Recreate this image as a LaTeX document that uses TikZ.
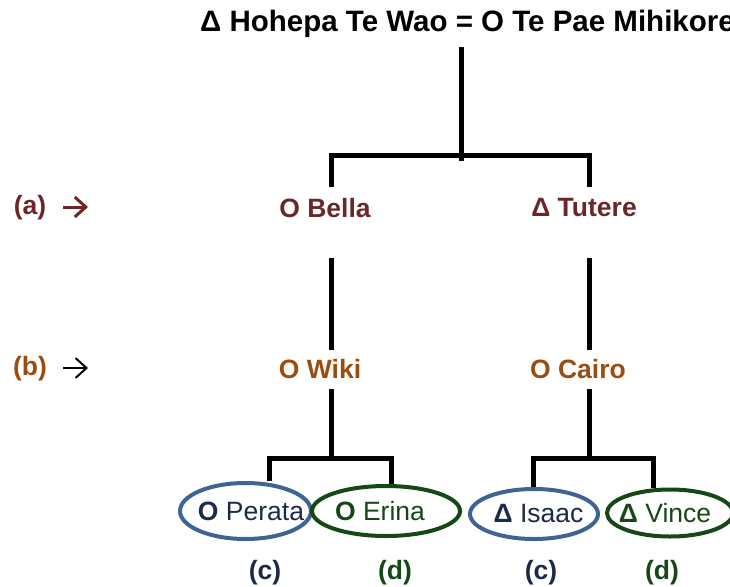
\documentclass[tikz,border=0pt]{standalone}
\usepackage{fontspec}
\setmainfont{Liberation Sans}
\usetikzlibrary{shapes.geometric,arrows.meta}
\definecolor{dred}{RGB}{107,38,40}
\definecolor{dorange}{RGB}{156,76,12}
\definecolor{navy}{RGB}{28,42,72}
\definecolor{bell}{RGB}{62,100,150}
\definecolor{dgreen}{RGB}{22,72,22}
\begin{document}
\begin{tikzpicture}[x=1pt,y=-1pt,
  nm/.style={font=\fontsize{26.5}{31}\selectfont\bfseries, inner sep=0pt},
  ttl/.style={font=\fontsize{29.5}{34}\selectfont\bfseries, inner sep=0pt},
  elltext/.style={font=\fontsize{26.5}{31}\selectfont, inner sep=0pt},
  ell/.style={ellipse, draw, line width=4pt, inner sep=0pt},
  tree/.style={line width=5pt, black, line join=miter},
  gen/.style={-{Straight Barb[length=11pt,width=20pt]}}]
\useasboundingbox (0,0) rectangle (730,586);
\clip (0,0) rectangle (730,586);
% title
\node[ttl, anchor=base west] (title) at (200,32) {Δ Hohepa Te Wao = O Te Pae Mihikore};
% generation labels
\node[nm, dred] (la) at (30,208) {(a)};
\node[nm, dorange] (lb) at (30,369) {(b)};
\coordinate (a1) at (63,207);
\coordinate (a2) at (88,207);
\coordinate (b1) at (63,368);
\coordinate (b2) at (88,368);
\draw[gen, dred, line width=3pt] (a1) -- (a2);
\draw[gen, black, line width=2pt] (b1) -- (b2);
% names
\node[nm, dred] (bella) at (325,208) {O Bella};
\node[nm, dred] (tutere) at (584,208) {Δ Tutere};
\node[nm, dorange] (wiki) at (320,369) {O Wiki};
\node[nm, dorange] (cairo) at (578,369) {O Cairo};
% ellipses
\node[ell, draw=bell, minimum width=131pt, minimum height=56pt,
  label={[elltext, navy, xshift=5.5pt]center:{\bfseries O}\ Perata}] (perata) at (245.5,511) {};
\node[ell, draw=dgreen, minimum width=148pt, minimum height=50pt,
  label={[elltext, dgreen, xshift=-6pt]center:{\bfseries O}\ Erina}] (erina) at (386,511) {};
\node[ell, draw=bell, minimum width=128pt, minimum height=50pt,
  label={[elltext, navy, xshift=4.5pt]center:{\bfseries Δ}\ Isaac}] (isaac) at (534,514) {};
\node[ell, draw=dgreen, minimum width=126pt, minimum height=47pt,
  label={[elltext, dgreen, xshift=-5pt]center:{\bfseries Δ}\ Vince}] (vince) at (670,513) {};
% (c) (d)
\node[nm, navy] (c1) at (265,573) {(c)};
\node[nm, dgreen] (d1) at (395,573) {(d)};
\node[nm, navy] (c2) at (541,573) {(c)};
\node[nm, dgreen] (d2) at (662,573) {(d)};
% tree lines
\coordinate (j0) at (461,155);
\coordinate (jw) at (331,458);
\coordinate (jc) at (589,458);
\draw[tree] (461,47) -- (461,161);
\draw[tree] (331,187) -- (331,155) -- (589,155) -- (589,187);
\draw[tree] (331,258) -- (331,350);
\draw[tree] (589,258) -- (589,350);
\draw[tree] (331,389) -- (jw);
\draw[tree] (589,389) -- (jc);
\draw[tree] (perata.north -| 269,0) -- (269,458) -- (391,458) -- (erina.north -| 391,0);
\draw[tree] (isaac.north -| 533,0) -- (533,458) -- (653,458) -- (vince.north -| 653,0);
\end{tikzpicture}
\end{document}
